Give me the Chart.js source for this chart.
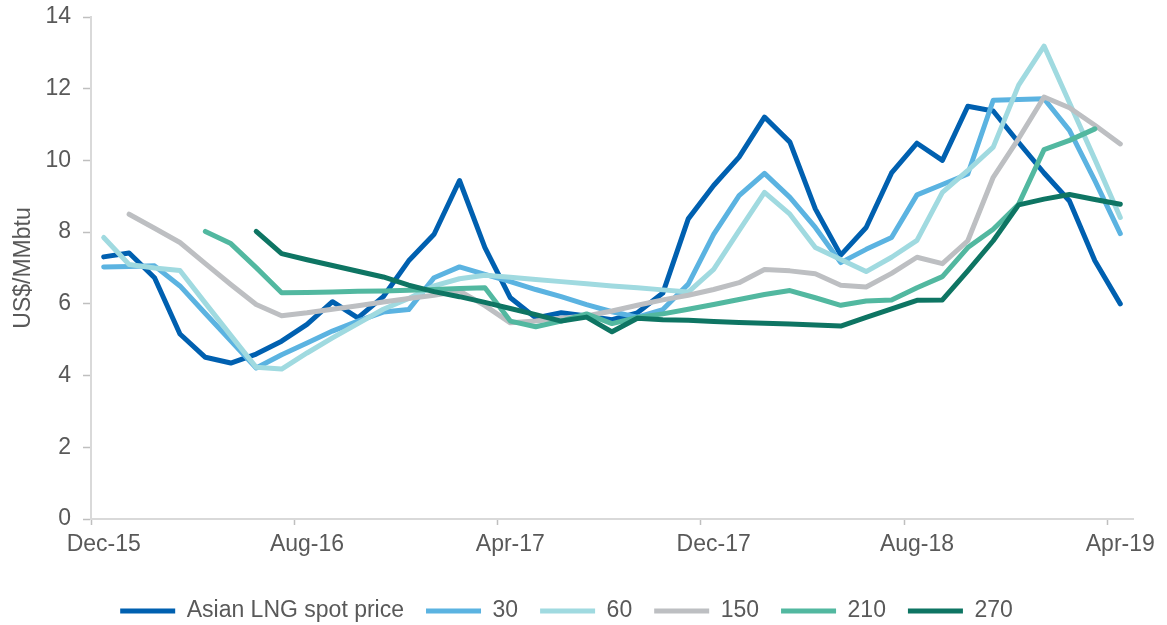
<!DOCTYPE html>
<html>
<head>
<meta charset="utf-8">
<script src="https://cdn.jsdelivr.net/npm/chart.js@4/dist/chart.umd.min.js"></script>
<style>
  html, body { margin: 0; padding: 0; background: #fff; }
  #wrap { width: 1167px; height: 625px; }
</style>
</head>
<body>
<div id="wrap"><canvas id="myChart" width="1167" height="625"></canvas></div>
<script>
// months, Dec-15 .. Apr-19
const months = [
  'Dec-15', 'Jan-16', 'Feb-16', 'Mar-16', 'Apr-16', 'May-16', 'Jun-16', 'Jul-16',
  'Aug-16', 'Sep-16', 'Oct-16', 'Nov-16', 'Dec-16', 'Jan-17', 'Feb-17', 'Mar-17',
  'Apr-17', 'May-17', 'Jun-17', 'Jul-17', 'Aug-17', 'Sep-17', 'Oct-17', 'Nov-17',
  'Dec-17', 'Jan-18', 'Feb-18', 'Mar-18', 'Apr-18', 'May-18', 'Jun-18', 'Jul-18',
  'Aug-18', 'Sep-18', 'Oct-18', 'Nov-18', 'Dec-18', 'Jan-19', 'Feb-19', 'Mar-19',
  'Apr-19'
];

const spotPrice = [7.31, 7.42, 6.73, 5.16, 4.51, 4.35, 4.6, 4.96, 5.43, 6.06, 5.61, 6.2,
  7.2, 7.94, 9.44, 7.57, 6.17, 5.61, 5.75, 5.66, 5.56, 5.75, 6.3, 8.37,
  9.3, 10.09, 11.21, 10.51, 8.65, 7.36, 8.13, 9.65, 10.48, 10.0, 11.51, 11.38,
  10.5, 9.65, 8.87, 7.2, 6.0];

const days30 = [7.03, 7.04, 7.06, 6.5, 5.73, 4.97, 4.21, 4.58, 4.91, 5.24, 5.52, 5.77,
  5.84, 6.73, 7.03, 6.82, 6.62, 6.4, 6.2, 5.98, 5.78, 5.63, 5.84, 6.55,
  7.94, 9.02, 9.64, 8.97, 8.13, 7.15, 7.52, 7.85, 9.04, 9.33, 9.62, 11.68,
  11.7, 11.72, 10.84, 9.44, 7.96];

const days60 = [7.85, 7.1, 7.0, 6.93, 6.02, 5.12, 4.23, 4.18, 4.63, 5.05, 5.45, 5.85,
  6.15, 6.5, 6.7, 6.8, 6.74, 6.68, 6.62, 6.56, 6.5, 6.45, 6.39, 6.33,
  6.96, 8.04, 9.11, 8.5, 7.57, 7.24, 6.9, 7.3, 7.77, 9.11, 9.72, 10.37,
  12.1, 13.19, 11.61, 10.03, 8.41];

const days150 = [null, 8.5, 8.11, 7.71, 7.12, 6.54, 5.98, 5.67, 5.75, 5.85, 5.95, 6.05,
  6.15, 6.24, 6.36, 5.95, 5.47, 5.52, 5.6, 5.66, 5.8, 5.96, 6.11, 6.24,
  6.4, 6.59, 6.96, 6.92, 6.84, 6.52, 6.47, 6.85, 7.3, 7.12, 7.76, 9.53,
  10.61, 11.77, 11.47, 10.98, 10.46];

const days210 = [null, null, null, null, 8.02, 7.68, 7.01, 6.31, 6.32, 6.33, 6.35, 6.36,
  6.38, 6.4, 6.43, 6.45, 5.52, 5.36, 5.52, 5.72, 5.45, 5.62, 5.72, 5.85,
  5.98, 6.12, 6.26, 6.37, 6.17, 5.96, 6.08, 6.11, 6.45, 6.76, 7.57, 8.08,
  8.78, 10.3, 10.56, 10.88, null];

const days270 = [null, null, null, null, null, null, 8.02, 7.4, 7.23, 7.07, 6.91, 6.75,
  6.52, 6.34, 6.2, 6.04, 5.87, 5.7, 5.52, 5.63, 5.22, 5.6, 5.56, 5.54,
  5.51, 5.48, 5.46, 5.44, 5.41, 5.38, 5.62, 5.86, 6.1, 6.11, 6.92, 7.76,
  8.76, 8.92, 9.05, 8.91, 8.78];

const seriesNames = ['Asian LNG spot price', '30', '60', '150', '210', '270'];
const seriesColors = ['#0060B0', '#5BB3E1', '#A0DAE0', '#BDBFC2', '#52B8A0', '#0E7563'];
const seriesData = [spotPrice, days30, days60, days150, days210, days270];

const textColor = '#595959';
const axisColor = '#D9D9D9';
const fontFamily = '"Liberation Sans", Arial, sans-serif';

const datasets = seriesData.map((d, k) => ({
  label: seriesNames[k],
  data: d,
  borderColor: seriesColors[k],
  backgroundColor: seriesColors[k],
  borderWidth: 5,
  borderCapStyle: 'round',
  borderJoinStyle: 'round',
  pointRadius: 0,
  tension: 0,
  order: seriesData.length - k // later series on top, like the original
}));

const ctx = document.getElementById('myChart').getContext('2d');
const myChart = new Chart(ctx, {
  type: 'line',
  data: { labels: months, datasets: datasets },
  options: {
    responsive: false,
    animation: false,
    layout: { padding: { top: 17, right: 34, bottom: -7.5, left: 0 } },
    plugins: {
      tooltip: { enabled: false },
      legend: {
        position: 'bottom',
        labels: {
          usePointStyle: true,
          pointStyle: 'line',
          pointStyleWidth: 55,
          padding: 22,
          color: textColor,
          font: { family: fontFamily, size: 23 },
          sort: (a, b) => a.datasetIndex - b.datasetIndex
        }
      }
    },
    scales: {
      x: {
        type: 'category',
        offset: true,
        afterFit: (scale) => { scale.height = 58.5; },
        grid: {
          offset: true,
          drawOnChartArea: false,
          tickLength: 6,
          tickWidth: 1.5,
          tickColor: (c) => (c.index % 8 === 0 ? '#BFBFBF' : 'transparent')
        },
        border: { color: axisColor, width: 2 },
        ticks: {
          autoSkip: false,
          maxRotation: 0,
          minRotation: 0,
          padding: 6,
          color: textColor,
          font: { family: fontFamily, size: 23 },
          callback: (value, index) => (index % 8 === 0 ? months[index] : '')
        }
      },
      y: {
        min: 0,
        max: 14,
        afterFit: (scale) => {
          scale.width = 91;
          scale.paddingTop = 0; // let the layout padding set the top edge
        },
        grid: {
          drawOnChartArea: false,
          tickLength: 8,
          tickWidth: 1.5,
          tickColor: '#BFBFBF'
        },
        border: { color: axisColor, width: 2 },
        ticks: {
          stepSize: 2,
          padding: 12,
          color: textColor,
          font: { family: fontFamily, size: 23 }
        },
        title: {
          display: true,
          text: 'US$/MMbtu',
          color: textColor,
          padding: { top: 10, bottom: 0 },
          font: { family: fontFamily, size: 23 }
        }
      }
    }
  }
});
</script>
</body>
</html>
